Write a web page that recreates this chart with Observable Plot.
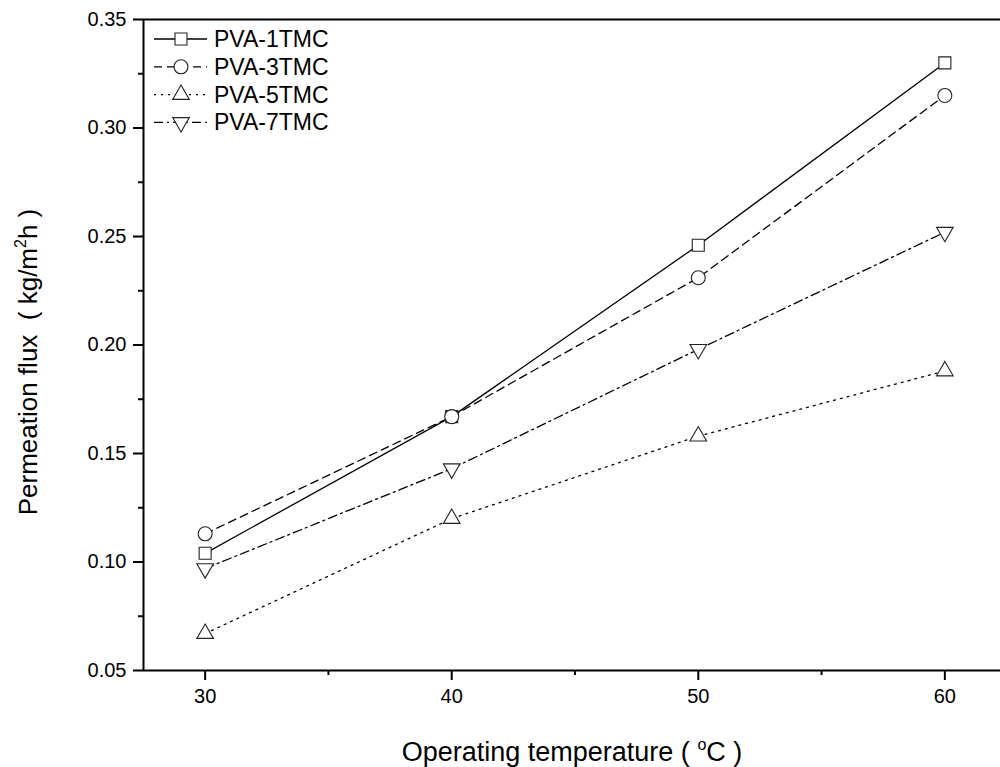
<!DOCTYPE html>
<html>
<head>
<meta charset="utf-8">
<script src="https://cdn.jsdelivr.net/npm/d3@7"></script>
<script src="https://cdn.jsdelivr.net/npm/@observablehq/plot@0.6"></script>
<style>
  html, body { margin: 0; padding: 0; background: #fff; }
  #chart svg { display: block; }
</style>
</head>
<body>
<div id="chart"></div>
<script>
// ---- data ----
const temps = [30, 40, 50, 60];
const seriesNames = ["PVA-1TMC", "PVA-3TMC", "PVA-5TMC", "PVA-7TMC"];
const pva1 = [0.104, 0.167, 0.246, 0.330];
const pva3 = [0.113, 0.167, 0.231, 0.315];
const pva5 = [0.067, 0.120, 0.158, 0.188];
const pva7 = [0.097, 0.143, 0.198, 0.252];
const xTicks = [30, 40, 50, 60];
const xMinorTicks = [35, 45, 55];
const yTicks = [0.05, 0.10, 0.15, 0.20, 0.25, 0.30, 0.35];
const yMinorTicks = [0.075, 0.125, 0.175, 0.225, 0.275, 0.325];
const xDomain = [27.5, 62.5];
const yDomain = [0.05, 0.35];
const xTitle = ["Operating temperature ( ", "o", "C )"];
const yTitle = ["Permeation flux  ( kg/m", "2", "h )"];

// ---- styles ----
const triangleDown = {
  draw(context, size) {
    const y = -Math.sqrt(size / (Math.sqrt(3) * 3));
    context.moveTo(0, -2 * y);
    context.lineTo(-Math.sqrt(3) * y, y);
    context.lineTo(Math.sqrt(3) * y, y);
    context.closePath();
  }
};
const styles = [
  {dash: null, symbol: d3.symbolSquare, size: 144},
  {dash: "8,5", symbol: d3.symbolCircle, size: 154},
  {dash: "2,5", symbol: d3.symbolTriangle, size: 120},
  {dash: "9,4,2,4", symbol: triangleDown, size: 120}
];
const values = [pva1, pva3, pva5, pva7];
const series = seriesNames.map((name, i) => ({
  name,
  ...styles[i],
  data: temps.map((t, j) => ({t, v: values[i][j]}))
}));

const W = 1000, H = 767;
const mL = 143, mT = 19, mB = 97, mR = 0;
const font = "'Liberation Sans', Arial, Helvetica, sans-serif";

const marks = [];
for (const s of series) {
  marks.push(Plot.line(s.data, {x: "t", y: "v", stroke: "black", strokeWidth: 1.3, strokeDasharray: s.dash ?? undefined}));
}
for (const s of series) {
  marks.push(Plot.dot(s.data, {x: "t", y: "v", symbol: s.symbol, r: Math.sqrt(s.size / Math.PI), fill: "white", stroke: "#222", strokeWidth: 1.1}));
}
marks.push(
  Plot.axisX(xTicks, {tickSize: 10, tickPadding: 8, fontSize: 20, label: null, strokeWidth: 2}),
  Plot.axisX(xMinorTicks, {tickSize: 5, tickFormat: () => "", label: null, strokeWidth: 2}),
  Plot.axisY(yTicks, {tickSize: 10, tickPadding: 7, fontSize: 20, label: null, strokeWidth: 2, tickFormat: d3.format(".2f")}),
  Plot.axisY(yMinorTicks, {tickSize: 5, tickFormat: () => "", label: null, strokeWidth: 2}),
  Plot.ruleY([yDomain[0]], {stroke: "black", strokeWidth: 2}),
  Plot.ruleY([yDomain[1]], {stroke: "black", strokeWidth: 2}),
  Plot.ruleX([xDomain[0]], {stroke: "black", strokeWidth: 2})
);

const chart = Plot.plot({
  width: W, height: H,
  marginLeft: mL, marginTop: mT, marginBottom: mB, marginRight: mR,
  style: {fontFamily: font, color: "black", background: "white"},
  x: {domain: xDomain, range: [mL, W + 6]},
  y: {domain: yDomain},
  marks
});
document.getElementById("chart").appendChild(chart);

// ---- titles and legend (overlay on the same svg) ----
const svg = d3.select(chart);
function title(sel, parts, size) {
  sel.attr("text-anchor", "middle").style("white-space", "pre")
    .attr("font-family", font).attr("font-size", size).attr("fill", "black");
  sel.append("tspan").text(parts[0]);
  sel.append("tspan").attr("font-size", 16).attr("dy", -11).text(parts[1]);
  sel.append("tspan").attr("dy", 11).text(parts[2]);
}
title(svg.append("text").attr("x", 572).attr("y", 761), xTitle, 27);
title(svg.append("text").attr("transform", "translate(37,362) rotate(-90)"), yTitle, 26);

const lg = svg.append("g").attr("transform", "translate(154,39)");
series.forEach((s, i) => {
  const g = lg.append("g").attr("transform", `translate(0,${i * 27.8})`);
  g.append("line").attr("x1", 0).attr("x2", 53).attr("y1", 0).attr("y2", 0)
    .attr("stroke", "black").attr("stroke-width", 1.3)
    .attr("stroke-dasharray", s.dash);
  g.append("path").attr("transform", "translate(27,0)")
    .attr("d", d3.symbol(s.symbol, s.size)())
    .attr("fill", "white").attr("stroke", "#222").attr("stroke-width", 1.1);
  g.append("text").attr("x", 60).attr("y", 0).attr("dy", "0.35em")
    .attr("text-anchor", "start")
    .attr("font-family", font).attr("font-size", 23).attr("fill", "black")
    .text(s.name);
});
</script>
</body>
</html>
